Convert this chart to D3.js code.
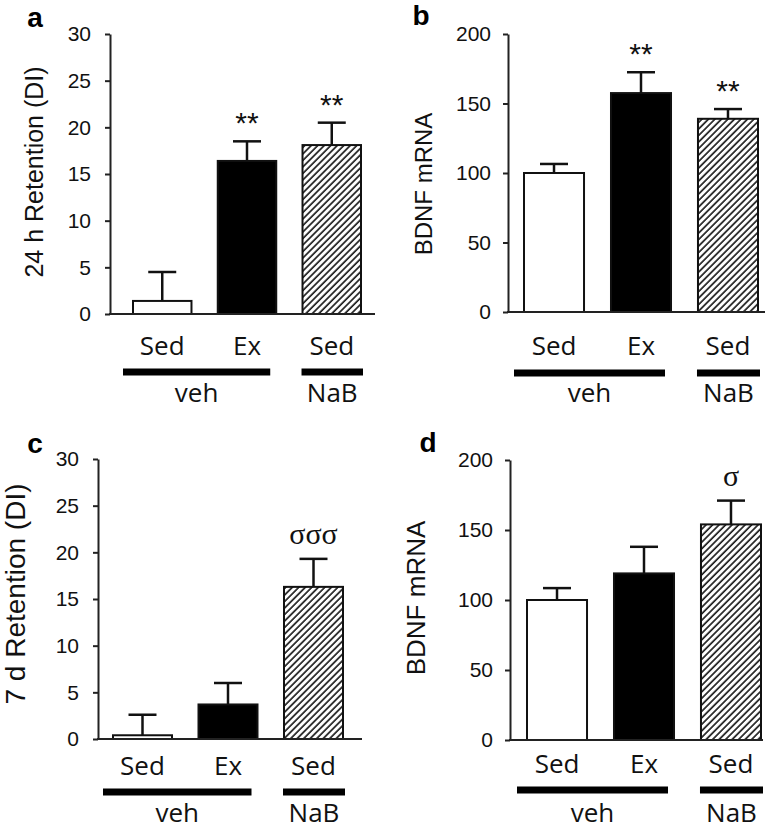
<!DOCTYPE html>
<html><head><meta charset="utf-8">
<script src="https://cdn.jsdelivr.net/npm/d3@7"></script>
<style>body{margin:0;background:#fff}</style>
</head><body><svg id="chart" width="779" height="829"></svg>
<script>
// ---- data ----
const categories = ["Sed", "Ex", "Sed"];
const groupLabels = ["veh", "NaB"];
const retention24hMean = [1.4, 16.4, 18.1];
const retention24hSem = [3.1, 2.1, 2.4];
const bdnf24hMean = [100, 157.5, 139];
const bdnf24hSem = [6.5, 15, 7];
const retention7dMean = [0.4, 3.7, 16.3];
const retention7dSem = [2.2, 2.3, 3.0];
const bdnf7dMean = [100, 119, 154];
const bdnf7dSem = [8.5, 19, 17];
const sigA = ["", "**", "**"];
const sigB = ["", "**", "**"];
const sigC = ["", "", "σσσ"];
const sigD = ["", "", "σ"];
const retentionTicks = [0, 5, 10, 15, 20, 25, 30];
const bdnfTicks = [0, 50, 100, 150, 200];
const fills = ["white", "black", "hatch"];

// ---- layout ----
const panels = [
  {letter:"a", lx:35, ly:27, mean:retention24hMean, sem:retention24hSem, sig:sigA, ticks:retentionTicks, ymax:30,
   axisX:110, y0:314, yTop:34, xEnd:375, band:[133,361], ylab:"24 h Retention (DI)", ylabX:43, ylabY:172, ylabSize:25,
   catY:355, grpY:372, grpTextY:402},
  {letter:"b", lx:421, ly:25, mean:bdnf24hMean, sem:bdnf24hSem, sig:sigB, ticks:bdnfTicks, ymax:200,
   axisX:508, y0:312, yTop:34, xEnd:765, band:[524,758], ylab:"BDNF mRNA", ylabX:432, ylabY:184, ylabSize:24,
   catY:355, grpY:373, grpTextY:402},
  {letter:"c", lx:35, ly:453, mean:retention7dMean, sem:retention7dSem, sig:sigC, ticks:retentionTicks, ymax:30,
   axisX:98, y0:739, yTop:459, xEnd:362, band:[113,343], ylab:"7 d Retention (DI)", ylabX:25, ylabY:594, ylabSize:28,
   catY:775, grpY:792, grpTextY:822},
  {letter:"d", lx:428, ly:452, mean:bdnf7dMean, sem:bdnf7dSem, sig:sigD, ticks:bdnfTicks, ymax:200,
   axisX:510, y0:740, yTop:460, xEnd:763, band:[527,761], ylab:"BDNF mRNA", ylabX:425, ylabY:598, ylabSize:26,
   catY:773, grpY:790, grpTextY:822}
];

const svg = d3.select("#chart");
const defs = svg.append("defs");
defs.append("pattern").attr("id","hatch").attr("patternUnits","userSpaceOnUse")
  .attr("width",4.6).attr("height",10).attr("patternTransform","rotate(45)")
  .append("line").attr("x1",1).attr("x2",1).attr("y1",0).attr("y2",10)
  .attr("stroke","#111").attr("stroke-width",1.6);

panels.forEach(p => {
  const g = svg.append("g");
  const y = d3.scaleLinear().domain([0, p.ymax]).range([p.y0, p.yTop]);
  const x = d3.scaleBand().domain(d3.range(categories.length)).range(p.band).paddingInner(0.31).paddingOuter(0);
  const bw = x.bandwidth();

  // panel letter
  g.append("text").attr("x", p.lx).attr("y", p.ly).attr("text-anchor","middle")
    .style("font", "bold 28px 'Liberation Sans', Arial, sans-serif").text(p.letter);

  // y axis
  const ax = g.append("g").attr("transform", `translate(${p.axisX},0)`)
    .call(d3.axisLeft(y).tickValues(p.ticks).tickSize(5).tickSizeOuter(0).tickPadding(p.ymax===30?14:12));
  ax.select(".domain").attr("stroke","#222").attr("stroke-width",2);
  ax.selectAll(".tick line").attr("stroke","#222").attr("stroke-width",2);
  ax.selectAll(".tick text").style("font","21px 'Liberation Sans', Arial, sans-serif").attr("fill","#111");

  // y label
  g.append("text").attr("transform", `translate(${p.ylabX},${p.ylabY}) rotate(-90)`)
    .attr("text-anchor","middle").attr("fill","#111")
    .style("font", `${p.ylabSize}px 'Liberation Sans', Arial, sans-serif`).text(p.ylab);

  // error bars
  categories.forEach((c, i) => {
    const cx = x(i) + bw / 2;
    const top = y(p.mean[i] + p.sem[i]);
    g.append("line").attr("x1",cx).attr("x2",cx).attr("y1",y(p.mean[i])).attr("y2",top)
      .attr("stroke","#111").attr("stroke-width",2.5);
    g.append("line").attr("x1",cx-14).attr("x2",cx+14).attr("y1",top).attr("y2",top)
      .attr("stroke","#111").attr("stroke-width",2.5);
    if (p.sig[i]) {
      const isSigma = p.sig[i].includes("σ");
      g.append("text").attr("x",cx).attr("y", top - (isSigma ? 15 : 8)).attr("text-anchor","middle")
        .attr("fill","#111")
        .style("font", isSigma ? "30px 'Liberation Serif', 'Times New Roman', serif" : "30px 'Liberation Sans', Arial, sans-serif")
        .text(p.sig[i]);
    }
  });

  // bars
  g.selectAll("rect.bar").data(p.mean).join("rect").attr("class","bar")
    .attr("x",(d,i)=>x(i)).attr("width",bw)
    .attr("y",d=>y(d)).attr("height",d=>p.y0 - y(d))
    .attr("fill",(d,i)=> fills[i]==="hatch" ? "url(#hatch)" : fills[i])
    .attr("stroke","#111").attr("stroke-width",2);

  // x axis line
  g.append("line").attr("x1",p.axisX-1).attr("x2",p.xEnd).attr("y1",p.y0).attr("y2",p.y0)
    .attr("stroke","#222").attr("stroke-width",2);

  // category labels
  categories.forEach((c,i)=>{
    g.append("text").attr("x", x(i)+bw/2).attr("y", p.catY).attr("text-anchor","middle")
      .attr("fill","#111").style("font","26px 'Open Sans', 'Segoe UI', sans-serif").text(c);
  });

  // group bars
  const grp = [[x(0)-10, x(1)+bw-6], [x(2)-1, x(2)+bw+2]];
  grp.forEach((r, j) => {
    g.append("line").attr("x1",r[0]).attr("x2",r[1]).attr("y1",p.grpY).attr("y2",p.grpY)
      .attr("stroke","#000").attr("stroke-width",7);
    g.append("text").attr("x",(r[0]+r[1])/2).attr("y",p.grpTextY).attr("text-anchor","middle")
      .attr("fill","#111").style("font","26px 'Open Sans', 'Segoe UI', sans-serif").text(groupLabels[j]);
  });
});
</script></body></html>
